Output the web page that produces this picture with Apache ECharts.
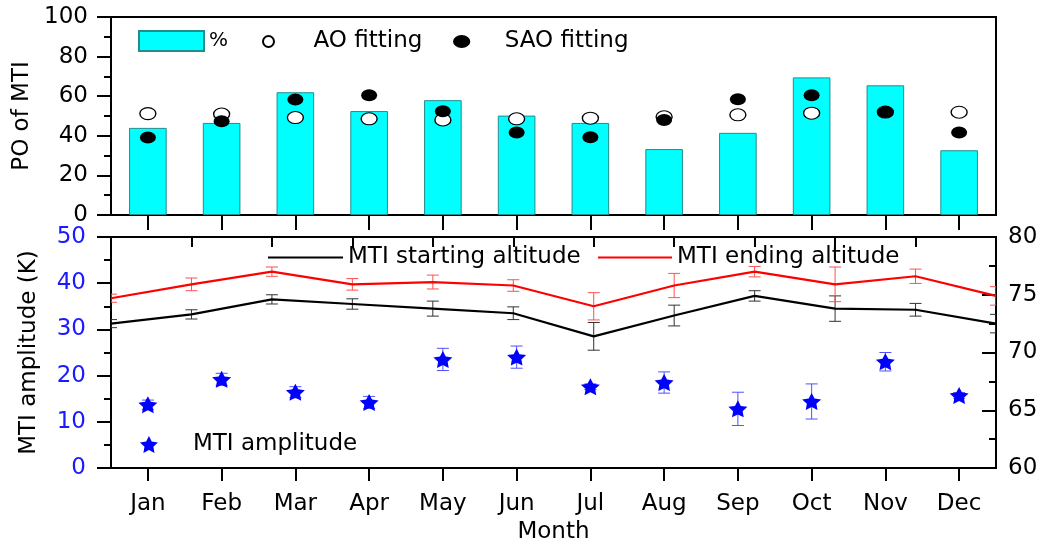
<!DOCTYPE html>
<html>
<head>
<meta charset="utf-8">
<script src="https://cdn.jsdelivr.net/npm/echarts@6/dist/echarts.min.js"></script>
<style>
html,body{margin:0;padding:0;background:#fff;}
#chart{width:1043px;height:548px;}
</style>
</head>
<body>
<div id="chart"></div>
<script>
// ---------- data ----------
var months = ['Jan','Feb','Mar','Apr','May','Jun','Jul','Aug','Sep','Oct','Nov','Dec'];
// top panel: PO of MTI (%)
var poPercent = [44, 46.5, 62, 52.5, 58, 50.2, 46.5, 33.3, 41.5, 69.5, 65.5, 32.7];
var aoFit     = [51.2, 51, 49.2, 48.6, 48, 48.6, 48.9, 49.6, 50.6, 51.4, 52, 51.9];
var saoFit    = [39.2, 47.4, 58.3, 60.5, 52.4, 41.7, 39.3, 48, 58.5, 60.5, 52, 41.7];
// bottom panel: altitudes (km, right axis)
var startAlt = [72.5, 73.3, 74.6, 74.2, 73.8, 73.4, 71.4, 73.2, 74.9, 73.8, 73.7, 72.5];
var startErr = [0.35, 0.4, 0.4, 0.45, 0.65, 0.55, 1.2, 0.9, 0.45, 1.1, 0.55, 0.8];
var endAlt   = [74.7, 75.9, 77.0, 75.9, 76.1, 75.8, 74.0, 75.8, 77.0, 75.9, 76.6, 74.9];
var endErr   = [0.35, 0.55, 0.4, 0.5, 0.6, 0.5, 1.18, 1.05, 0.45, 1.5, 0.62, 0.8];
// bottom panel: MTI amplitude (K, left axis)
var ampl    = [13.7, 19.2, 16.4, 14.2, 23.5, 24.0, 17.6, 18.5, 12.8, 14.4, 23.0, 15.7];
var amplErr = [1.0, 1.3, 1.2, 1.3, 2.4, 2.4, 0.6, 2.3, 3.6, 3.8, 2.0, 0.6];
// tick settings
var poTicks = {min: 0, max: 100, interval: 20};
var amplTicks = {min: 0, max: 50, interval: 10};
var altTicks = {min: 60, max: 80, interval: 5};

// ---------- helpers ----------
var FONT = 'DejaVu Sans';
var FS = 23;
var STAR = 'path://M0,-10 L2.94,-4.05 L9.51,-3.09 L4.76,1.55 L5.88,8.09 L0,5 L-5.88,8.09 L-4.76,1.55 L-9.51,-3.09 L-2.94,-4.05 Z';
var ELLIPSE = 'path://M0,6 A8,6 0 1,0 16,6 A8,6 0 1,0 0,6 Z';
var LINEICON = 'path://M0,0 L75,0 L75,2.2 L0,2.2 Z';

function errData(vals, errs) {
  return vals.map(function (v, i) { return [i, v, errs[i]]; });
}
function errRender(color, capHalf) {
  return function (params, api) {
    var x = api.value(0), y = api.value(1), e = api.value(2);
    var p1 = api.coord([x, y + e]);
    var p2 = api.coord([x, y - e]);
    var st = {stroke: color, lineWidth: 1, fill: null};
    return {
      type: 'group',
      children: [
        {type: 'line', shape: {x1: p1[0], y1: p1[1], x2: p2[0], y2: p2[1]}, style: st},
        {type: 'line', shape: {x1: p1[0] - capHalf, y1: p1[1], x2: p1[0] + capHalf, y2: p1[1]}, style: st},
        {type: 'line', shape: {x1: p2[0] - capHalf, y1: p2[1], x2: p2[0] + capHalf, y2: p2[1]}, style: st}
      ]
    };
  };
}
var axisLineStyle = {show: true, lineStyle: {color: '#000', width: 2}};
var legendText = {fontSize: FS, color: '#000', fontFamily: FONT};

var chart = echarts.init(document.getElementById('chart'), null, {renderer: 'canvas'});
chart.setOption({
  animation: false,
  backgroundColor: '#fff',
  textStyle: {fontFamily: FONT},
  grid: [
    {left: 111, right: 47, top: 17, height: 198, show: true, borderColor: '#000', borderWidth: 2, backgroundColor: 'transparent'},
    {left: 111, right: 47, top: 237, height: 231, show: true, borderColor: '#000', borderWidth: 2, backgroundColor: 'transparent'}
  ],
  legend: [
    {data: [{name: '%', icon: 'rect'}], left: 138, top: 30, padding: 0, itemWidth: 65, itemHeight: 20, selectedMode: false, textStyle: {fontSize: 20, color: '#000', fontFamily: FONT}},
    {data: [{name: 'AO fitting', icon: 'circle'}], left: 262, top: 30, padding: 0, itemWidth: 80, itemHeight: 11, selectedMode: false, textStyle: legendText},
    {data: [{name: 'SAO fitting', icon: ELLIPSE}], left: 453, top: 30, padding: 0, itemWidth: 76, itemHeight: 13, selectedMode: false, textStyle: legendText},
    {data: [{name: 'MTI starting altitude', icon: LINEICON}], left: 268, top: 246, padding: 0, itemWidth: 75, itemHeight: 14, selectedMode: false, textStyle: legendText},
    {data: [{name: 'MTI ending altitude', icon: LINEICON}], left: 598, top: 246, padding: 0, itemWidth: 74, itemHeight: 14, selectedMode: false, textStyle: legendText},
    {data: [{name: 'MTI amplitude', icon: STAR}], left: 140, top: 433, padding: 0, itemWidth: 78, itemHeight: 17, selectedMode: false, textStyle: legendText}
  ],
  xAxis: [
    {type: 'category', gridIndex: 0, data: months, boundaryGap: true,
     axisLine: axisLineStyle,
     axisTick: {show: true, alignWithLabel: true, interval: 0, length: 15, lineStyle: {color: '#000', width: 2}},
     axisLabel: {show: false}, splitLine: {show: false}},
    {type: 'category', gridIndex: 1, data: months, boundaryGap: true, position: 'bottom',
     axisLine: axisLineStyle,
     axisTick: {show: true, alignWithLabel: true, interval: 0, length: 13, lineStyle: {color: '#000', width: 2}},
     axisLabel: {show: true, interval: 0, fontSize: FS, color: '#000', margin: 25, fontFamily: FONT},
     name: 'Month', nameLocation: 'middle', nameGap: 53,
     nameTextStyle: {fontSize: FS, color: '#000', fontFamily: FONT},
     splitLine: {show: false}},
    {type: 'category', gridIndex: 1, data: months, boundaryGap: false, position: 'top',
     axisLine: axisLineStyle,
     axisTick: {show: true, inside: true, interval: 0, length: 10, lineStyle: {color: '#000', width: 2}},
     axisLabel: {show: false, interval: 0}, splitLine: {show: false}}
  ],
  yAxis: [
    {type: 'value', gridIndex: 0, min: poTicks.min, max: poTicks.max, interval: poTicks.interval,
     axisLine: axisLineStyle,
     axisTick: {show: true, length: 14, lineStyle: {color: '#000', width: 2}},
     minorTick: {show: true, splitNumber: 2, length: 7, lineStyle: {color: '#000', width: 2}},
     axisLabel: {fontSize: FS, color: '#000', margin: 23, fontFamily: FONT},
     splitLine: {show: false}, minorSplitLine: {show: false},
     name: 'PO of MTI', nameLocation: 'middle', nameGap: 67,
     nameTextStyle: {fontSize: FS, color: '#000', fontFamily: FONT}},
    {type: 'value', gridIndex: 1, min: amplTicks.min, max: amplTicks.max, interval: amplTicks.interval,
     position: 'left',
     axisLine: axisLineStyle,
     axisTick: {show: true, length: 14, lineStyle: {color: '#000', width: 2}},
     minorTick: {show: true, splitNumber: 2, length: 7, lineStyle: {color: '#000', width: 2}},
     axisLabel: {fontSize: FS, color: '#1a1aff', margin: 25, fontFamily: FONT},
     splitLine: {show: false}, minorSplitLine: {show: false},
     name: 'MTI amplitude (K)', nameLocation: 'middle', nameGap: 70,
     nameTextStyle: {fontSize: FS, color: '#000', fontFamily: FONT}},
    {type: 'value', gridIndex: 1, min: altTicks.min, max: altTicks.max, interval: altTicks.interval,
     position: 'right',
     axisLine: axisLineStyle,
     axisTick: {show: true, inside: true, length: 14, lineStyle: {color: '#000', width: 2}},
     minorTick: {show: true, splitNumber: 2, length: 7, lineStyle: {color: '#000', width: 2}},
     axisLabel: {fontSize: FS, color: '#000', margin: 12, fontFamily: FONT},
     splitLine: {show: false}, minorSplitLine: {show: false}}
  ],
  series: [
    {name: '%', type: 'bar', xAxisIndex: 0, yAxisIndex: 0, data: poPercent, barWidth: '51%',
     itemStyle: {color: '#00ffff', borderColor: '#238c8c', borderWidth: 1}, z: 2},
    {name: 'AO fitting', type: 'scatter', xAxisIndex: 0, yAxisIndex: 0, data: aoFit,
     symbol: 'circle', symbolSize: [16, 12],
     itemStyle: {color: '#fff', borderColor: '#000', borderWidth: 1.2, opacity: 1}, z: 3},
    {name: 'SAO fitting', type: 'scatter', xAxisIndex: 0, yAxisIndex: 0, data: saoFit,
     symbol: 'circle', symbolSize: [16, 12],
     itemStyle: {color: '#000', opacity: 1}, z: 4},
    {name: 'MTI starting altitude', type: 'line', xAxisIndex: 2, yAxisIndex: 2, data: startAlt,
     symbol: 'none', lineStyle: {color: '#000', width: 2.2}, itemStyle: {color: '#000'}, z: 3},
    {name: 'MTI ending altitude', type: 'line', xAxisIndex: 2, yAxisIndex: 2, data: endAlt,
     symbol: 'none', lineStyle: {color: '#ff0000', width: 2.2}, itemStyle: {color: '#ff0000'}, z: 3},
    {name: 'startErr', type: 'custom', xAxisIndex: 2, yAxisIndex: 2, data: errData(startAlt, startErr),
     encode: {x: 0, y: 1}, renderItem: errRender('#333333', 6), clip: true, z: 2},
    {name: 'endErr', type: 'custom', xAxisIndex: 2, yAxisIndex: 2, data: errData(endAlt, endErr),
     encode: {x: 0, y: 1}, renderItem: errRender('#ff5050', 6), clip: true, z: 2},
    {name: 'amplErr', type: 'custom', xAxisIndex: 1, yAxisIndex: 1, data: errData(ampl, amplErr),
     encode: {x: 0, y: 1}, renderItem: errRender('#5050ff', 6), clip: true, z: 2},
    {name: 'MTI amplitude', type: 'scatter', xAxisIndex: 1, yAxisIndex: 1, data: ampl,
     symbol: STAR, symbolSize: [19, 17], itemStyle: {color: '#0000ff', opacity: 1}, z: 4}
  ]
});
</script>
</body>
</html>
